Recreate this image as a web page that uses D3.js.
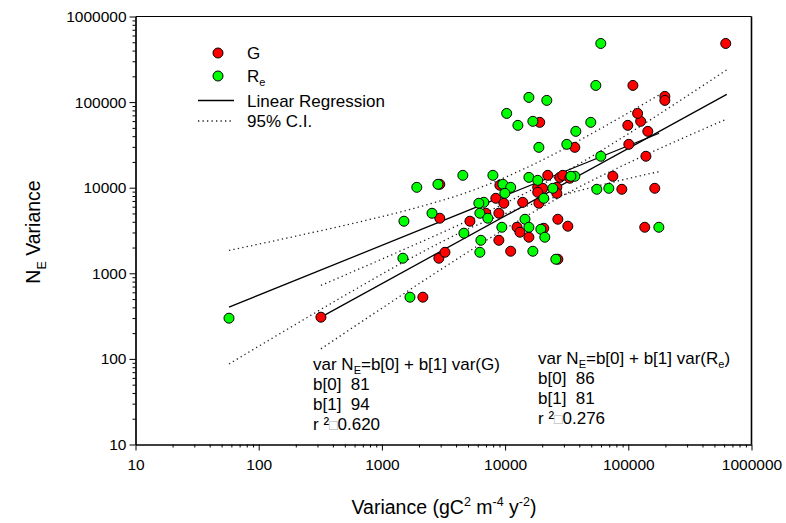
<!DOCTYPE html>
<html>
<head>
<meta charset="utf-8">
<script src="https://cdn.jsdelivr.net/npm/d3@7"></script>
<style>
  html, body { margin: 0; padding: 0; background: #fff; }
  svg { display: block; font-family: Arial, "Liberation Sans", Helvetica, sans-serif; }
</style>
</head>
<body>
<svg id="chart" width="786" height="523"></svg>
<script>
// ---------- DATA ----------
// G series (x = variance of G, y = N_E variance)
const gX = [320, 2150, 2950, 2900, 3250, 5180, 6980, 8900, 8410, 9770, 9070, 13900, 18800, 12500, 13200, 15600,
  8900, 11100, 26800, 32300, 26800, 22200, 27800, 29400, 33500, 18400, 20200, 18400, 26300, 26300, 74900, 88600,
  164000, 136000, 139000, 101000, 99100, 144000, 126000, 119000, 198000, 198000, 109000, 618000, 19100, 36800, 20600, 2950];
const gY = [307, 526, 4400, 1500, 1760, 4060, 5030, 5030, 7520, 6580, 10670, 6750, 6580, 3450, 3020, 2640,
  2430, 1810, 4280, 3550, 1460, 13950, 13200, 13950, 12900, 10100, 9840, 8840, 10100, 8600, 13600, 9580,
  9840, 3450, 23300, 32100, 53500, 45500, 59600, 73800, 116600, 104700, 156600, 484000, 58000, 29600, 3360, 10960];
// Re series
const reX = [57.4, 1690, 1480, 1510, 2550, 1920, 2850, 4540, 7960, 4630, 6360, 6240, 6720, 6120, 6240, 7240,
  9590, 11100, 9950, 9410, 14500, 15600, 19500, 21000, 16800, 25800, 15600, 18400, 24400, 20600, 36800, 34200,
  55500, 69500, 59800, 49600, 37500, 31700, 18800, 16800, 12700, 10300, 15600, 21800, 54500, 59800, 177000];
const reY = [299, 526, 1500, 4060, 5030, 10100, 10960, 13950, 13950, 2940, 2430, 1760, 6750, 6580, 5030, 4400,
  10960, 10100, 8600, 3450, 4280, 3450, 3270, 2640, 1810, 1460, 13200, 12200, 9840, 7520, 13600, 13600,
  9580, 9840, 23300, 58000, 45500, 32100, 29600, 59600, 53500, 73800, 113500, 104700, 156600, 484000, 3450];

// Regression lines (end points)
const gLineX = [320, 629500];
const gLineY = [308, 123000];
const reLineX = [57.4, 177800];
const reLineY = [402, 43250];

// 95% confidence bands
const gCIx = [320, 1000, 3162, 10000, 31623, 100000, 316228, 629500];
const gCIupper = [721, 1466, 3046, 6577, 15670, 42560, 123900, 238200];
const gCIlower = [131, 391, 1161, 3311, 8570, 19450, 41200, 63500];
const reCIx = [57.4, 178, 562, 1778, 5623, 17783, 56234, 177800];
const reCIupper = [1850, 2618, 3784, 5686, 9462, 19320, 46800, 121300];
const reCIlower = [87.3, 230, 608, 1546, 3548, 6637, 10470, 15420];

const axisTicks = [10, 100, 1000, 10000, 100000, 1000000];

const annotG = ["b[0]  81", "b[1]  94", "0.620"];
const annotRe = ["b[0]  86", "b[1]  81", "0.276"];

// ---------- CHART ----------
const svg = d3.select("#chart");
const x = d3.scaleLog().domain([10, 1e6]).range([135.5, 751.5]);
const y = d3.scaleLog().domain([10, 1e6]).range([444.5, 16.5]);

const minors = [];
for (let e = 1; e < 6; e++) for (let m = 2; m <= 9; m++) minors.push(m * Math.pow(10, e));

// frame (top and right)
svg.append("line").attr("x1", x.range()[0]).attr("x2", x.range()[1]).attr("y1", y.range()[1]).attr("y2", y.range()[1])
  .attr("stroke", "#000").attr("stroke-width", 1.2);
svg.append("line").attr("x1", x.range()[1]).attr("x2", x.range()[1]).attr("y1", y.range()[0]).attr("y2", y.range()[1])
  .attr("stroke", "#000").attr("stroke-width", 1.6);

// x axis
svg.append("g").attr("transform", `translate(0,${y.range()[0]})`)
  .call(d3.axisBottom(x).tickValues(minors).tickSize(3).tickSizeOuter(0).tickFormat(""));
svg.append("g").attr("transform", `translate(0,${y.range()[0]})`)
  .call(d3.axisBottom(x).tickValues(axisTicks).tickSize(6).tickSizeOuter(0).tickPadding(8).tickFormat(d3.format("d")));
// y axis
svg.append("g").attr("transform", `translate(${x.range()[0]},0)`)
  .call(d3.axisLeft(y).tickValues(minors).tickSize(3).tickSizeOuter(0).tickFormat(""));
svg.append("g").attr("transform", `translate(${x.range()[0]},0)`)
  .call(d3.axisLeft(y).tickValues(axisTicks).tickSize(6).tickSizeOuter(0).tickPadding(3).tickFormat(d3.format("d")));

svg.selectAll(".domain").attr("stroke", "#000").attr("stroke-width", 1.2);
svg.selectAll(".tick line").attr("stroke", "#000");
svg.selectAll(".tick text").attr("font-size", 15.5).attr("fill", "#000")
  .attr("font-family", "Arial, 'Liberation Sans', sans-serif");

// axis titles
const xt = svg.append("text").attr("x", 444).attr("y", 514).attr("text-anchor", "middle")
  .attr("font-size", 19.5).attr("fill", "#000");
xt.append("tspan").text("Variance (gC");
xt.append("tspan").attr("dy", -8).attr("font-size", 12.5).text("2");
xt.append("tspan").attr("dy", 8).text(" m");
xt.append("tspan").attr("dy", -8).attr("font-size", 12.5).text("-4");
xt.append("tspan").attr("dy", 8).text(" y");
xt.append("tspan").attr("dy", -8).attr("font-size", 12.5).text("-2");
xt.append("tspan").attr("dy", 8).text(")");

const yt = svg.append("text").attr("transform", "translate(40,232) rotate(-90)").attr("text-anchor", "middle")
  .attr("font-size", 19.5).attr("fill", "#000");
yt.append("tspan").text("N");
yt.append("tspan").attr("dy", 6).attr("font-size", 12.5).text("E");
yt.append("tspan").attr("dy", -6).text(" Variance");

// clip
svg.append("clipPath").attr("id", "plotclip").append("rect")
  .attr("x", x.range()[0]).attr("y", y.range()[1]).attr("width", x.range()[1] - x.range()[0]).attr("height", y.range()[0] - y.range()[1]);
const plot = svg.append("g").attr("clip-path", "url(#plotclip)");

const lineGen = d3.line().x(d => x(d[0])).y(d => y(d[1])).curve(d3.curveMonotoneX);
const zip = (a, b) => a.map((v, i) => [v, b[i]]);

const dotted = { stroke: "#222", width: 1.3, dash: "1.3,3.2" };
[[gCIx, gCIupper], [gCIx, gCIlower], [reCIx, reCIupper], [reCIx, reCIlower]].forEach(([xs, ys]) => {
  plot.append("path").attr("d", lineGen(zip(xs, ys))).attr("fill", "none")
    .attr("stroke", dotted.stroke).attr("stroke-width", dotted.width).attr("stroke-dasharray", dotted.dash);
});
[[gLineX, gLineY], [reLineX, reLineY]].forEach(([xs, ys]) => {
  plot.append("path").attr("d", lineGen(zip(xs, ys))).attr("fill", "none")
    .attr("stroke", "#000").attr("stroke-width", 1.3);
});

// points: G first (red), then Re (green) on top
plot.append("g").selectAll("circle").data(zip(gX, gY)).join("circle")
  .attr("cx", d => x(d[0])).attr("cy", d => y(d[1])).attr("r", 5)
  .attr("fill", "#ff0000").attr("stroke", "#000").attr("stroke-width", 1);
plot.append("g").selectAll("circle").data(zip(reX, reY)).join("circle")
  .attr("cx", d => x(d[0])).attr("cy", d => y(d[1])).attr("r", 5)
  .attr("fill", "#00ff00").attr("stroke", "#000").attr("stroke-width", 1);

// legend
const lg = svg.append("g").attr("font-size", 17).attr("fill", "#000");
lg.append("circle").attr("cx", 218).attr("cy", 53).attr("r", 5).attr("fill", "#ff0000").attr("stroke", "#000");
lg.append("text").attr("x", 247).attr("y", 59).text("G");
lg.append("circle").attr("cx", 218).attr("cy", 76).attr("r", 5).attr("fill", "#00ff00").attr("stroke", "#000");
const lre = lg.append("text").attr("x", 247).attr("y", 82);
lre.append("tspan").text("R");
lre.append("tspan").attr("dy", 4).attr("font-size", 11).text("e");
lg.append("line").attr("x1", 198).attr("x2", 234).attr("y1", 100.5).attr("y2", 100.5).attr("stroke", "#000").attr("stroke-width", 1.3);
lg.append("text").attr("x", 247).attr("y", 106.5).text("Linear Regression");
lg.append("line").attr("x1", 198).attr("x2", 234).attr("y1", 121).attr("y2", 121)
  .attr("stroke", dotted.stroke).attr("stroke-width", dotted.width).attr("stroke-dasharray", dotted.dash);
lg.append("text").attr("x", 247).attr("y", 127).text("95% C.I.");

// annotations
function annot(x0, y0, sub, vals) {
  const g = svg.append("g").attr("font-size", 17).attr("fill", "#000");
  const t = g.append("text").attr("x", x0).attr("y", y0);
  t.append("tspan").text("var N");
  t.append("tspan").attr("dy", 4).attr("font-size", 11).text("E");
  t.append("tspan").attr("dy", -4).text("=b[0] + b[1] var(" + sub[0]);
  if (sub[1]) {
    t.append("tspan").attr("dy", 4).attr("font-size", 11).text(sub[1]);
    t.append("tspan").attr("dy", -4).text(")");
  } else {
    t.append("tspan").text(")");
  }
  g.append("text").attr("x", x0).attr("y", y0 + 20).attr("xml:space", "preserve").text(vals[0]);
  g.append("text").attr("x", x0).attr("y", y0 + 40).attr("xml:space", "preserve").text(vals[1]);
  const r = g.append("text").attr("x", x0).attr("y", y0 + 60);
  r.append("tspan").text("r ²");
  r.append("tspan").attr("fill", "#aaa").attr("font-size", 14).text("\u25A1");
  r.append("tspan").text(vals[2]);
}
annot(313, 370, ["G", null], annotG);
annot(538, 364, ["R", "e"], annotRe);
</script>
</body>
</html>
